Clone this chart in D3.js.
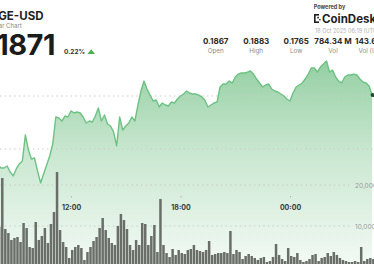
<!DOCTYPE html>
<html>
<head>
<meta charset="utf-8">
<script src="https://cdn.jsdelivr.net/npm/d3@7"></script>
<style>
    html, body { margin: 0; padding: 0; background: #fff; overflow: hidden; }
    text { font-family: Inter, "Open Sans", sans-serif; }
</style>
</head>
<body>
<div id="chart"></div>
<script>
// Data
// ------------------------------------------------------------------
// 10 minute candles, first one at 08:00 on 17 Oct
const startTime = new Date(2025, 9, 17, 8, 0)
const stepMinutes = 10

const prices = [
    0.17849, 0.17821, 0.17821, 0.17840, 0.17783, 0.17746, 0.17812, 0.17859, 0.17887, 0.18132,
    0.17991, 0.17906, 0.17915, 0.17793, 0.17680, 0.17764, 0.17849, 0.17934, 0.18047, 0.18302,
    0.18293, 0.18264, 0.18311, 0.18302, 0.18359, 0.18340, 0.18349, 0.18340, 0.18302, 0.18245,
    0.18264, 0.18255, 0.18311, 0.18387, 0.18264, 0.18321, 0.18236, 0.18217, 0.18161, 0.18029,
    0.18302, 0.18179, 0.18217, 0.18245, 0.18302, 0.18264, 0.18415, 0.18547, 0.18641, 0.18566,
    0.18509, 0.18453, 0.18462, 0.18396, 0.18434, 0.18415, 0.18406, 0.18443, 0.18434, 0.18472,
    0.18500, 0.18519, 0.18547, 0.18528, 0.18519, 0.18519, 0.18509, 0.18491, 0.18462, 0.18396,
    0.18415, 0.18434, 0.18443, 0.18585, 0.18613, 0.18613, 0.18641, 0.18623, 0.18679, 0.18707,
    0.18717, 0.18717, 0.18726, 0.18736, 0.18707, 0.18660, 0.18623, 0.18585, 0.18604, 0.18613,
    0.18566, 0.18547, 0.18538, 0.18519, 0.18500, 0.18472, 0.18453, 0.18528, 0.18585, 0.18604,
    0.18623, 0.18660, 0.18707, 0.18764, 0.18764, 0.18726, 0.18773, 0.18802, 0.18830, 0.18726,
    0.18745, 0.18679, 0.18641, 0.18623, 0.18679, 0.18698, 0.18698, 0.18707, 0.18698, 0.18660,
    0.18632, 0.18623, 0.18594, 0.18509
]

const volumes = [
    9760, 21700, 9270, 8290, 6590, 7070, 7320, 6100, 10730, 9510,
    4880, 4630, 10980, 6590, 7560, 9510, 5850, 10490, 13410, 23170,
    9020, 6100, 4880, 2200, 4150, 4880, 5370, 4630, 1710, 3660,
    4880, 6340, 7320, 9510, 11950, 9020, 7070, 5850, 5370, 10000,
    12930, 11460, 9270, 5370, 4150, 6590, 5370, 10730, 10490, 5370,
    7560, 10240, 3660, 16590, 5370, 3410, 2440, 4390, 2930, 4150,
    3410, 3170, 4150, 4390, 5370, 4150, 3900, 3660, 4150, 6340,
    2930, 3170, 3410, 3410, 3660, 3410, 8780, 3170, 4150, 3660,
    1950, 2680, 3170, 2680, 2200, 1710, 2200, 2440, 1220, 1460,
    2440, 5610, 2930, 1950, 1460, 4630, 2680, 2440, 3410, 1710,
    1220, 1460, 1950, 2930, 3170, 1460, 2200, 2440, 3410, 2680,
    3660, 2930, 2200, 1710, 1460, 1220, 1220, 1460, 1220, 4880,
    1460, 1950, 2200, 1950
]

const timeTicks = ["2025-10-17T12:00", "2025-10-17T18:00", "2025-10-18T00:00"]
const priceGrid = [0.180, 0.185]
const volumeTicks = [10000, 20000]

const statValues = ["0.1867", "0.1883", "0.1765", "784.34 M", "143.63 M"]
const statLabels = ["Open", "High", "Low", "Vol", "Vol (USD)"]


// Chart
// ------------------------------------------------------------------
const width = 374, height = 264

const data = prices.map((p, i) => ({
    time: new Date(startTime.getTime() + i * stepMinutes * 60000),
    price: p,
    volume: volumes[i]
}))

const x = d3.scaleTime()
    .domain([new Date(2025, 9, 17, 12, 0), new Date(2025, 9, 18, 0, 0)])
    .range([71, 290])

const yPrice = d3.scaleLinear().domain([0.180, 0.185]).range([149, 96])
const yVol = d3.scaleLinear().domain([0, 20000]).range([267, 185])

const barWidth = x(new Date(2025, 9, 17, 12, 10)) - x(new Date(2025, 9, 17, 12, 0)) - 0.55

const svg = d3.select("#chart").append("svg")
    .attr("width", width)
    .attr("height", height)

// gradient under the price line
const grad = svg.append("defs").append("linearGradient")
    .attr("id", "areaFill")
    .attr("gradientUnits", "userSpaceOnUse")
    .attr("x1", 0).attr("x2", 0)
    .attr("y1", 60).attr("y2", height)
grad.append("stop").attr("offset", 0).attr("stop-color", "#4caf64").attr("stop-opacity", 0.6)
grad.append("stop").attr("offset", 0.45).attr("stop-color", "#4caf64").attr("stop-opacity", 0.3)
grad.append("stop").attr("offset", 1).attr("stop-color", "#4caf64").attr("stop-opacity", 0.07)

const area = d3.area()
    .x(d => x(d.time))
    .y0(height)
    .y1(d => yPrice(d.price))

const line = d3.line()
    .x(d => x(d.time))
    .y(d => yPrice(d.price))

svg.append("path")
    .datum(data)
    .attr("d", area)
    .style("fill", "url(#areaFill)")

// gridlines
svg.append("g").selectAll("line")
    .data(priceGrid)
    .join("line")
    .attr("x1", 0).attr("x2", width)
    .attr("y1", d => yPrice(d)).attr("y2", d => yPrice(d))
    .style("stroke", "#c9cec9")
    .style("stroke-width", 1)
    .style("stroke-dasharray", "1.5,3.2")

svg.append("g").selectAll("line")
    .data(volumeTicks)
    .join("line")
    .attr("x1", 0).attr("x2", 351)
    .attr("y1", d => yVol(d)).attr("y2", d => yVol(d))
    .style("stroke", "#c9cec9")
    .style("stroke-width", 1)
    .style("stroke-dasharray", "1.5,3.2")

// volume bars
svg.append("g").selectAll("rect")
    .data(data)
    .join("rect")
    .attr("x", d => x(d.time))
    .attr("y", d => yVol(d.volume))
    .attr("width", barWidth)
    .attr("height", d => yVol(0) - yVol(d.volume))
    .style("fill", "#6a6e69")

// price line + last point
svg.append("path")
    .datum(data)
    .attr("d", line)
    .style("fill", "none")
    .style("stroke", "#6cc283")
    .style("stroke-width", 1.4)
    .style("stroke-linejoin", "round")

const last = data[data.length - 1]
svg.append("circle")
    .attr("cx", x(last.time) + 0.5)
    .attr("cy", yPrice(last.price))
    .attr("r", 2)
    .style("fill", "#1f4a2b")

// time axis
const xAxis = d3.axisBottom(x)
    .tickValues(timeTicks.map(t => new Date(t)))
    .tickFormat(d3.timeFormat("%H:%M"))
    .tickSize(1.5)
    .tickPadding(8)

const gx = svg.append("g")
    .attr("transform", "translate(0,196)")
    .call(xAxis)
gx.select(".domain").remove()
gx.selectAll("line").style("stroke", "#b5b5b5")
gx.selectAll("text")
    .style("font-family", "Inter, sans-serif")
    .style("font-size", "7px")
    .style("font-weight", 700)
    .style("fill", "#3a3a3a")

// volume axis
const yAxis = d3.axisRight(yVol)
    .tickValues(volumeTicks)
    .tickFormat(d3.format(","))
    .tickSize(0)
    .tickPadding(0)

const gy = svg.append("g")
    .attr("transform", "translate(355,0)")
    .call(yAxis)
gy.select(".domain").remove()
gy.selectAll("text")
    .style("font-family", "Inter, sans-serif")
    .style("font-size", "6.5px")
    .style("fill", "#9a9a9a")

// header
svg.append("text")
    .attr("x", 43.5).attr("y", 20)
    .attr("text-anchor", "end")
    .style("font-size", "11.5px").style("font-weight", 700).style("fill", "#222")
    .text("DOGE-USD")

svg.append("text")
    .attr("x", 21.7).attr("y", 27.5)
    .attr("text-anchor", "end")
    .style("font-size", "6px").style("fill", "#888")
    .text("Dogecoin to US Dollar Chart")

svg.append("text")
    .attr("x", 55).attr("y", 55)
    .attr("text-anchor", "end")
    .style("font-size", "29px").style("font-weight", 700).style("fill", "#1b1b1b")
    .style("letter-spacing", "-0.5px")
    .text("0.1871")

svg.append("text")
    .attr("x", 64).attr("y", 53.5)
    .style("font-size", "6.5px").style("font-weight", 700).style("fill", "#333")
    .text("0.22%")

svg.append("path")
    .attr("d", "M87.5,54 L91.2,49.2 L95,54 Z")
    .style("fill", "#4caf50")

// powered by
svg.append("text")
    .attr("x", 313.7).attr("y", 8.5)
    .style("font-size", "5.5px").style("font-weight", 700).style("fill", "#444")
    .text("Powered by")

const logo = svg.append("g").style("fill", "#1e1e1e")
logo.append("rect").attr("x", 314).attr("y", 14).attr("width", 1.6).attr("height", 9)
logo.append("rect").attr("x", 314).attr("y", 14).attr("width", 5).attr("height", 1.6)
logo.append("rect").attr("x", 314).attr("y", 21.4).attr("width", 5).attr("height", 1.6)
logo.append("rect").attr("x", 317.3).attr("y", 16.8).attr("width", 1.6).attr("height", 1.6)
logo.append("rect").attr("x", 319.2).attr("y", 19).attr("width", 1.4).attr("height", 1.4)

svg.append("text")
    .attr("x", 322).attr("y", 22.5)
    .style("font-size", "11.5px").style("font-weight", 700).style("fill", "#1e1e1e")
    .text("CoinDesk Data")

svg.append("text")
    .attr("x", 315).attr("y", 32.5)
    .style("font-size", "5.5px").style("fill", "#b0b0b0")
    .text("18 Oct 2025 06:19 (UTC)")

// stats row
const statX = [215.7, 256.2, 296.2, 333, 373]
const gStats = svg.append("g")
gStats.selectAll(".val")
    .data(statValues)
    .join("text")
    .attr("class", "val")
    .attr("x", (d, i) => statX[i]).attr("y", 44.3)
    .attr("text-anchor", "middle")
    .style("font-size", "8px").style("font-weight", 700).style("fill", "#2a2a2a")
    .text(d => d)
gStats.selectAll(".lab")
    .data(statLabels)
    .join("text")
    .attr("class", "lab")
    .attr("x", (d, i) => statX[i]).attr("y", 53.3)
    .attr("text-anchor", "middle")
    .style("font-size", "6.3px").style("fill", "#8a8a8a")
    .text(d => d)
</script>
</body>
</html>
